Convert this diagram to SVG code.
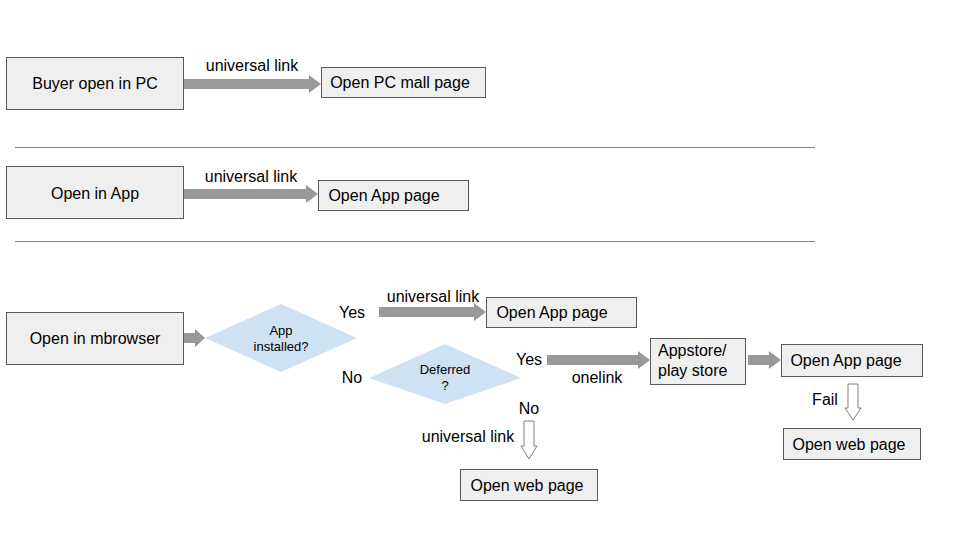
<svg xmlns="http://www.w3.org/2000/svg" width="960" height="540" viewBox="0 0 960 540">
<style>
.box{fill:#efefef;stroke:#595959;stroke-width:1}
.dia{fill:#cfe2f3;stroke:none}
.t{font-family:"Liberation Sans",Arial,sans-serif;font-size:16px;fill:#000}
.s{font-family:"Liberation Sans",Arial,sans-serif;font-size:13px;fill:#000}
.fat{fill:#999999;stroke:none}
.hol{fill:#ffffff;stroke:#808080;stroke-width:1}
.sep{stroke:#808080;stroke-width:1}
</style>
<rect width="960" height="540" fill="#ffffff"/>
<g id="connectors">
<polygon class="fat" points="183,79 309,79 309,75 321,84 309,93 309,89 183,89"/>
<polygon class="fat" points="183,189 306,189 306,185 318,194 306,203 306,199 183,199"/>
<polygon class="fat" points="183,333 195,333 195,329 205,338 195,347 195,343 183,343"/>
<polygon class="fat" points="379,307 474,307 474,303 486,312 474,321 474,317 379,317"/>
<polygon class="fat" points="547,355 638,355 638,351 650,360 638,369 638,365 547,365"/>
<polygon class="fat" points="748,355 769,355 769,351 781,360 769,369 769,365 748,365"/>
<polygon class="hol" points="848,384 858,384 858,408 861,408 853,420 845,408 848,408"/>
<polygon class="hol" points="524,421 534,421 534,446 537,446 529,459 521,446 524,446"/>
<line class="sep" x1="15" y1="147.5" x2="815" y2="147.5"/>
<line class="sep" x1="15" y1="241.5" x2="815" y2="241.5"/>
</g>
<g id="labels">
<text class="t" x="252" y="71" text-anchor="middle">universal link</text>
<text class="t" x="251" y="182" text-anchor="middle">universal link</text>
<text class="t" x="352" y="318" text-anchor="middle">Yes</text>
<text class="t" x="433" y="302" text-anchor="middle">universal link</text>
<text class="t" x="352" y="383" text-anchor="middle">No</text>
<text class="t" x="529" y="365" text-anchor="middle">Yes</text>
<text class="t" x="597" y="383" text-anchor="middle">onelink</text>
<text class="t" x="825" y="405" text-anchor="middle">Fail</text>
<text class="t" x="529" y="414" text-anchor="middle">No</text>
<text class="t" x="468" y="442" text-anchor="middle">universal link</text>
</g>
<g id="n1"><rect class="box" x="6.5" y="57.5" width="177" height="52"/><text class="t" x="95" y="89" text-anchor="middle">Buyer open in PC</text></g>
<g id="n2"><rect class="box" x="321.5" y="67.5" width="164" height="30"/><text class="t" x="400" y="88" text-anchor="middle">Open PC mall page</text></g>
<g id="n3"><rect class="box" x="6.5" y="166.5" width="177" height="52"/><text class="t" x="95" y="199" text-anchor="middle">Open in App</text></g>
<g id="n4"><rect class="box" x="318.5" y="180.5" width="150" height="30"/><text class="t" x="384" y="201" text-anchor="middle">Open App page</text></g>
<g id="n5"><rect class="box" x="6.5" y="312.5" width="177" height="52"/><text class="t" x="95" y="344" text-anchor="middle">Open in mbrowser</text></g>
<g id="n6"><polygon class="dia" points="205,338 281,304 357,338 281,372"/><text class="s" x="281" y="335" text-anchor="middle">App</text><text class="s" x="281" y="351" text-anchor="middle">installed?</text></g>
<g id="n7"><rect class="box" x="486.5" y="297.5" width="150" height="30"/><text class="t" x="552" y="318" text-anchor="middle">Open App page</text></g>
<g id="n8"><polygon class="dia" points="369,378 445,344 521,378 445,404"/><text class="s" x="445" y="374" text-anchor="middle">Deferred</text><text class="s" x="445" y="390" text-anchor="middle">?</text></g>
<g id="n9"><rect class="box" x="650.5" y="338.5" width="95" height="46"/><text class="t" x="658" y="356">Appstore/</text><text class="t" x="658" y="376">play store</text></g>
<g id="n10"><rect class="box" x="781.5" y="344.5" width="141" height="32"/><text class="t" x="846" y="366" text-anchor="middle">Open App page</text></g>
<g id="n11"><rect class="box" x="783.5" y="428.5" width="137" height="31"/><text class="t" x="849" y="450" text-anchor="middle">Open web page</text></g>
<g id="n12"><rect class="box" x="460.5" y="469.5" width="137" height="31"/><text class="t" x="527" y="491" text-anchor="middle">Open web page</text></g>
</svg>
